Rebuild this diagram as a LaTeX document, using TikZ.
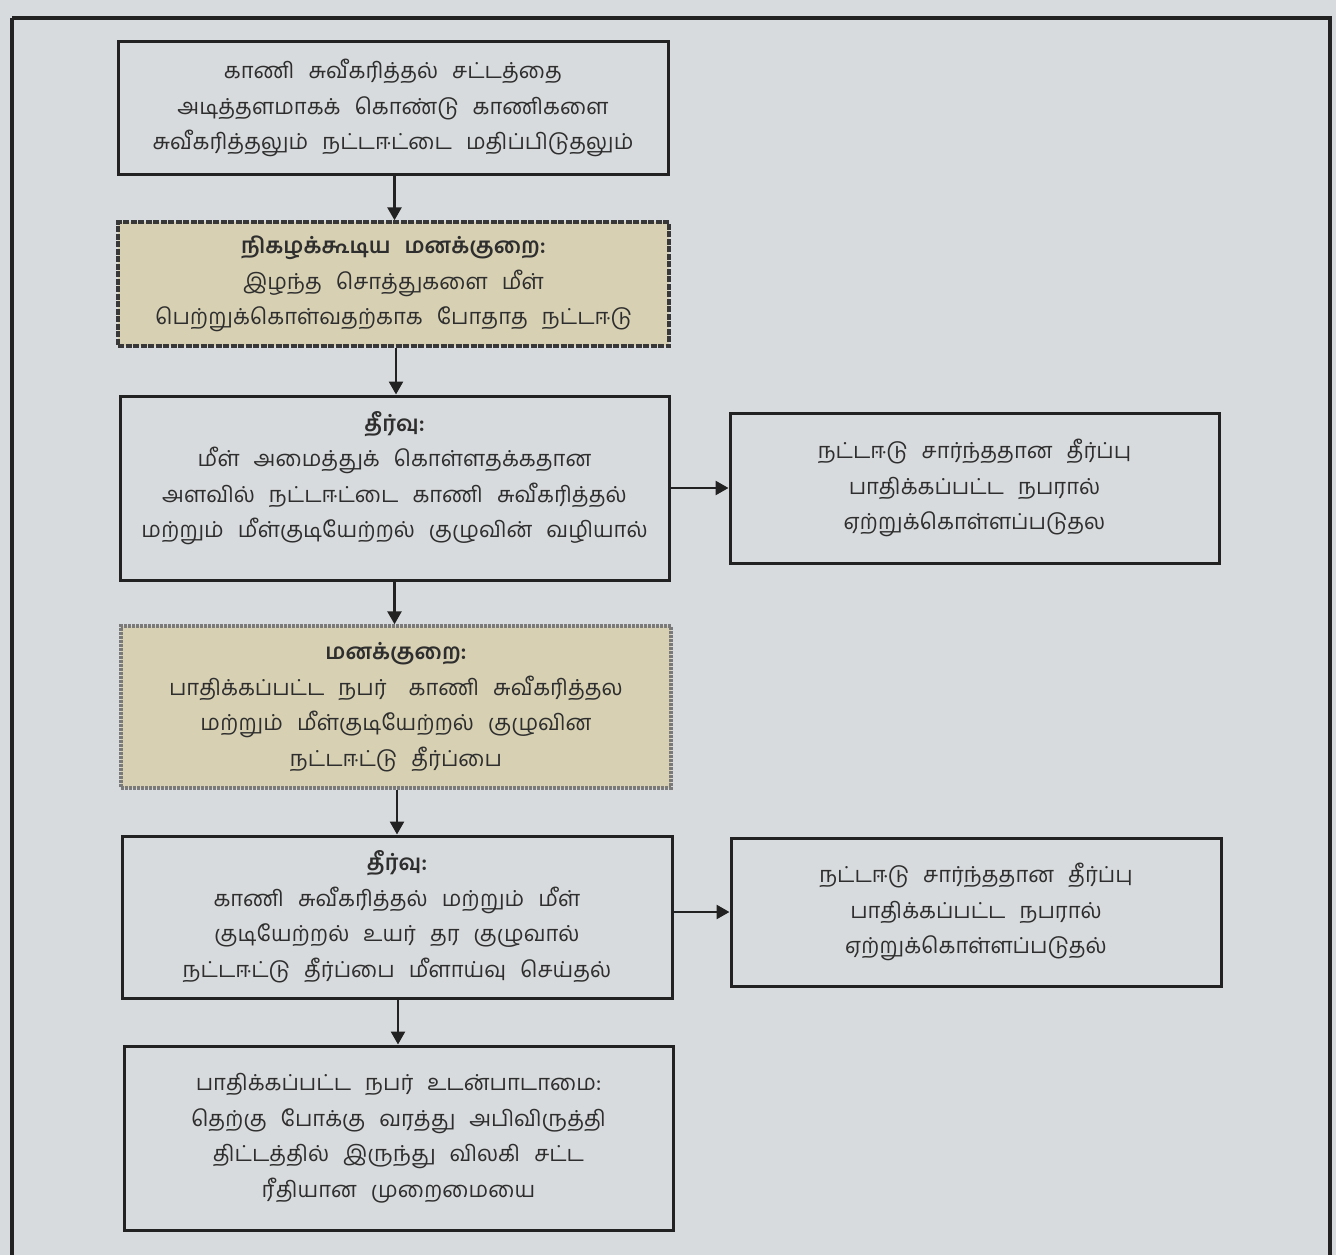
\documentclass[tikz,border=0pt]{standalone}
\usepackage{fontspec}
\usetikzlibrary{arrows.meta}
\newfontfamily\tamil[Script=Tamil]{Hind Madurai}
\newcommand\tamfont{\tamil\fontsize{22}{35.5}\selectfont\spaceskip=14pt\relax}
\definecolor{bgc}{HTML}{D8DBDD}
\definecolor{tan}{HTML}{D7D0B3}
\definecolor{ink}{HTML}{222222}
\definecolor{txt}{HTML}{2E2E2E}
\tikzset{
  plainbox/.style={draw=ink, line width=3pt, fill=bgc, rectangle, inner sep=0pt},
  tanbox/.style={draw=ink!90, line width=3.4pt, dash pattern=on 6pt off 1.5pt, fill=tan, rectangle, inner sep=0pt},
  tanbox2/.style={draw=ink!60, line width=3.4pt, dash pattern=on 3pt off 1pt, fill=tan, rectangle, inner sep=0pt},
  txtnode/.style={align=center, inner sep=0pt, text=txt, font=\tamfont},
  conn/.style={draw=ink, line width=2.6pt, -{Triangle[width=14pt,length=13pt]}}
}
\begin{document}
\begin{tikzpicture}[x=1pt,y=-1pt]
\useasboundingbox (0,0) rectangle (1336,1255);
\fill[bgc] (0,0) rectangle (1336,1255);
\draw[ink, line width=4pt] (12,18) -- (1330,18) -- (1330,1300) (12,18) -- (12,1300);
% boxes
\node[plainbox, minimum width=550pt, minimum height=132pt] (b1) at (393,108) {};
\node[tanbox, minimum width=551pt, minimum height=124pt] (b2) at (393.5,284) {};
\node[plainbox, minimum width=549pt, minimum height=184pt] (b3) at (394.5,488) {};
\node[plainbox, minimum width=489pt, minimum height=150pt] (b4) at (974.5,488) {};
\node[tanbox2, minimum width=550pt, minimum height=162pt] (b5) at (396,707) {};
\node[plainbox, minimum width=550pt, minimum height=162pt] (b6) at (397,917) {};
\node[plainbox, minimum width=490pt, minimum height=148pt] (b7) at (976,912) {};
\node[plainbox, minimum width=549pt, minimum height=184pt] (b8) at (398.5,1138) {};
% texts
\node[txtnode] (t1) at (b1.center) {காணி சுவீகரித்தல் சட்டத்தை\\அடித்தளமாகக் கொண்டு காணிகளை\\சுவீகரித்தலும் நட்டஈட்டை மதிப்பிடுதலும்};
\node[txtnode] (t2) at (b2.center) {\textbf{நிகழக்கூடிய மனக்குறை:}\\இழந்த சொத்துகளை மீள்\\பெற்றுக்கொள்வதற்காக போதாத நட்டஈடு};
\node[txtnode] (t3) at (394.5,478) {\textbf{தீர்வு:}\\மீள் அமைத்துக் கொள்ளதக்கதான\\அளவில் நட்டஈட்டை காணி சுவீகரித்தல்\\மற்றும் மீள்குடியேற்றல் குழுவின் வழியால்};
\node[txtnode] (t4) at (b4.center) {நட்டஈடு சார்ந்ததான தீர்ப்பு\\பாதிக்கப்பட்ட நபரால்\\ஏற்றுக்கொள்ளப்படுதல};
\node[txtnode] (t5) at (b5.center) {\textbf{மனக்குறை:}\\பாதிக்கப்பட்ட நபர்\quad காணி சுவீகரித்தல\\மற்றும் மீள்குடியேற்றல் குழுவின\\நட்டஈட்டு தீர்ப்பை};
\node[txtnode] (t6) at (b6.center) {\textbf{தீர்வு:}\\காணி சுவீகரித்தல் மற்றும் மீள்\\குடியேற்றல் உயர் தர குழுவால்\\நட்டஈட்டு தீர்ப்பை மீளாய்வு செய்தல்};
\node[txtnode] (t7) at (b7.center) {நட்டஈடு சார்ந்ததான தீர்ப்பு\\பாதிக்கப்பட்ட நபரால்\\ஏற்றுக்கொள்ளப்படுதல்};
\node[txtnode] (t8) at (b8.center) {பாதிக்கப்பட்ட நபர் உடன்பாடாமை:\\தெற்கு போக்கு வரத்து அபிவிருத்தி\\திட்டத்தில் இருந்து விலகி சட்ட\\ரீதியான முறைமையை};
% connectors
\draw[conn] ([xshift=1.5pt]b1.south) -- ([xshift=1.5pt]b1.south |- b2.north);
\draw[conn] ([xshift=2.5pt]b2.south) -- ([xshift=2.5pt]b2.south |- b3.north);
\draw[conn] (b3.south) -- (b3.south |- b5.north);
\draw[conn] ([xshift=1pt]b5.south) -- ([xshift=1pt]b5.south |- b6.north);
\draw[conn] ([xshift=1pt]b6.south) -- ([xshift=1pt]b6.south |- b8.north);
\draw[conn] (b3.east) -- (b4.west);
\draw[conn] (b6.east |- b7.west) -- (b7.west);
\end{tikzpicture}
\end{document}
